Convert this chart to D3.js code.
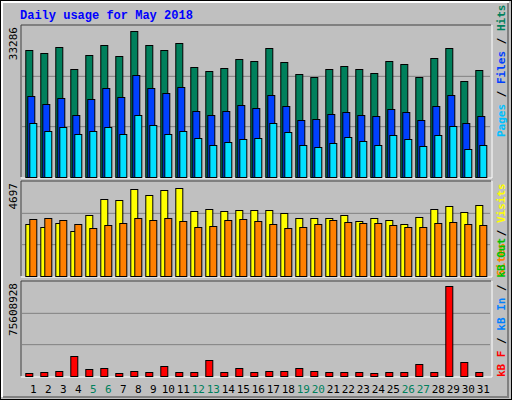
<!DOCTYPE html>
<html><head><meta charset="utf-8">
<script src="https://cdn.jsdelivr.net/npm/d3@7"></script>
<style>body{margin:0;background:#fff}</style>
</head><body>
<script>
var days = d3.range(1, 32);
var weekend = [5, 6, 12, 13, 19, 20, 26, 27];
var hits = [27886,27229,28762,23725,26791,29200,26572,32266,29200,28105,29638,24163,23287,23944,25915,25477,28543,25258,22630,21973,23725,24382,23725,22849,25477,24820,21973,26134,28543,21097,23506];
var files = [17812,16060,17374,13651,17155,19564,17593,22411,19564,18469,19783,14527,13651,14527,15841,15184,18031,15622,12556,12775,13870,14308,13651,13432,14965,14308,12556,15622,18031,11899,13432];
var pages = [11899,10147,11023,9490,10147,11023,9490,13651,11461,9490,10147,8614,7081,7738,8395,8614,11899,9928,7081,6643,7519,8833,7957,7081,9271,8395,6862,9271,11242,6205,7081];
var visits = [2576,2432,2624,2240,3056,3824,3776,4352,4064,4304,4400,3248,3344,3248,3296,3296,3296,3152,2912,2912,2912,3056,2768,2912,2816,2576,2960,3344,3488,3200,3536];
var sites = [2864,2912,2816,2576,2384,2528,2624,2912,2816,2912,2768,2432,2480,2816,2864,2768,2576,2384,2432,2576,2816,2720,2672,2624,2528,2432,2432,2624,2720,2576,2528];
var kbF = [2640000,3440000,4230000,16130000,5820000,6610000,2640000,4230000,3440000,8200000,3440000,3440000,12950000,3440000,6610000,3440000,4230000,4230000,6610000,4230000,3440000,3440000,3440000,2640000,3440000,3440000,9780000,3440000,72440000,11370000,3440000];
var maxHits = 33286, maxVisits = 4697, maxKB = 75608928;

var svg = d3.select('body').append('svg').attr('width', 512).attr('height', 400)
  .style('font-family', 'DejaVu Sans Mono, monospace');
svg.append('rect').attr('x', 0.5).attr('y', 0.5).attr('width', 511).attr('height', 399)
  .attr('fill', '#c0c0c0').attr('stroke', '#000');
svg.append('path').attr('d', 'M2,397V2H509').attr('fill', 'none').attr('stroke', '#fff').attr('stroke-width', 2);
svg.append('path').attr('d', 'M3,397H508V3').attr('fill', 'none').attr('stroke', '#808080').attr('stroke-width', 2);

svg.append('text').attr('x', 20).attr('y', 19).text('Daily usage for May 2018')
  .attr('fill', '#0000ff').attr('font-weight', 'bold').attr('font-size', 12)
  .attr('font-family', 'Liberation Mono, monospace');

var x = d3.scaleLinear().domain([1, 31]).range([25.3, 475.3]);

function panel(y0, y1, max, grid, series, label) {
  var y = d3.scaleLinear().domain([0, max]).range([y1, y0 + 1]);
  var g = svg.append('g');
  g.append('rect').attr('x', 21).attr('y', y0).attr('width', 470).attr('height', y1 - y0)
    .attr('fill', '#c0c0c0');
  g.append('path').attr('d', 'M21,' + y1 + 'V' + y0 + 'H491').attr('fill', 'none').attr('stroke', '#404040');
  g.append('path').attr('d', 'M21,' + (y1 + 1) + 'H492V' + y0).attr('fill', 'none').attr('stroke', '#fff');
  grid.forEach(function (f) {
    g.append('line').attr('x1', 22).attr('x2', 490).attr('y1', y(max * f)).attr('y2', y(max * f))
      .attr('stroke', '#808080');
  });
  series.forEach(function (s) {
    g.selectAll(null).data(s.data).enter().append('rect')
      .attr('x', function (d, i) { return x(days[i]) + s.dx + 0.5; })
      .attr('y', function (d) { return Math.round(y(d)) + 0.5; })
      .attr('width', 7)
      .attr('height', function (d) { return y1 - Math.round(y(d)); })
      .attr('fill', s.color).attr('stroke', '#000');
  });
  g.append('text').attr('transform', 'translate(17,' + (y0 + 2) + ') rotate(-90)')
    .attr('text-anchor', 'end').attr('font-size', 11).attr('fill', '#000').text(label);
  return y;
}

panel(25, 177, maxHits, [1 / 3, 2 / 3], [
  { data: hits, color: '#00805c', dx: 0 },
  { data: files, color: '#0040ff', dx: 2 },
  { data: pages, color: '#00e0ff', dx: 4 }
], '33286');
panel(181, 276, maxVisits, [1 / 3, 2 / 3], [
  { data: visits, color: '#ffff00', dx: 0 },
  { data: sites, color: '#ff8000', dx: 4 }
], '4697');
panel(281, 376, maxKB, [1 / 3, 2 / 3], [
  { data: kbF, color: '#ff0000', dx: 0 }
], '75608928');

svg.selectAll('.day').data(days).enter().append('text')
  .attr('x', function (d) { return x(d) + 8; }).attr('y', 393)
  .attr('text-anchor', 'middle').attr('font-size', 11)
  .attr('fill', function (d) { return weekend.indexOf(d) >= 0 ? '#00805c' : '#000'; })
  .text(function (d) { return d; });

function sideLabel(yBottom, parts) {
  var t = svg.append('text').attr('transform', 'translate(505,' + yBottom + ') rotate(-90)')
    .attr('font-size', 11).attr('font-weight', 'bold');
  parts.forEach(function (p) { t.append('tspan').attr('fill', p[1]).text(p[0]); });
}
sideLabel(137, [['Pages', '#00c0ff'], [' / ', '#000'], ['Files', '#0040ff'], [' / ', '#000'], ['Hits', '#00805c']]);
sideLabel(276, [['Sites', '#ff8000'], [' / ', '#000'], ['Visits', '#ffff00']]);
sideLabel(377, [['kB F', '#ff0000'], [' / ', '#000'], ['kB In', '#0080ff'], [' / ', '#000'], ['kB Out', '#00c000']]);
</script>
</body></html>
